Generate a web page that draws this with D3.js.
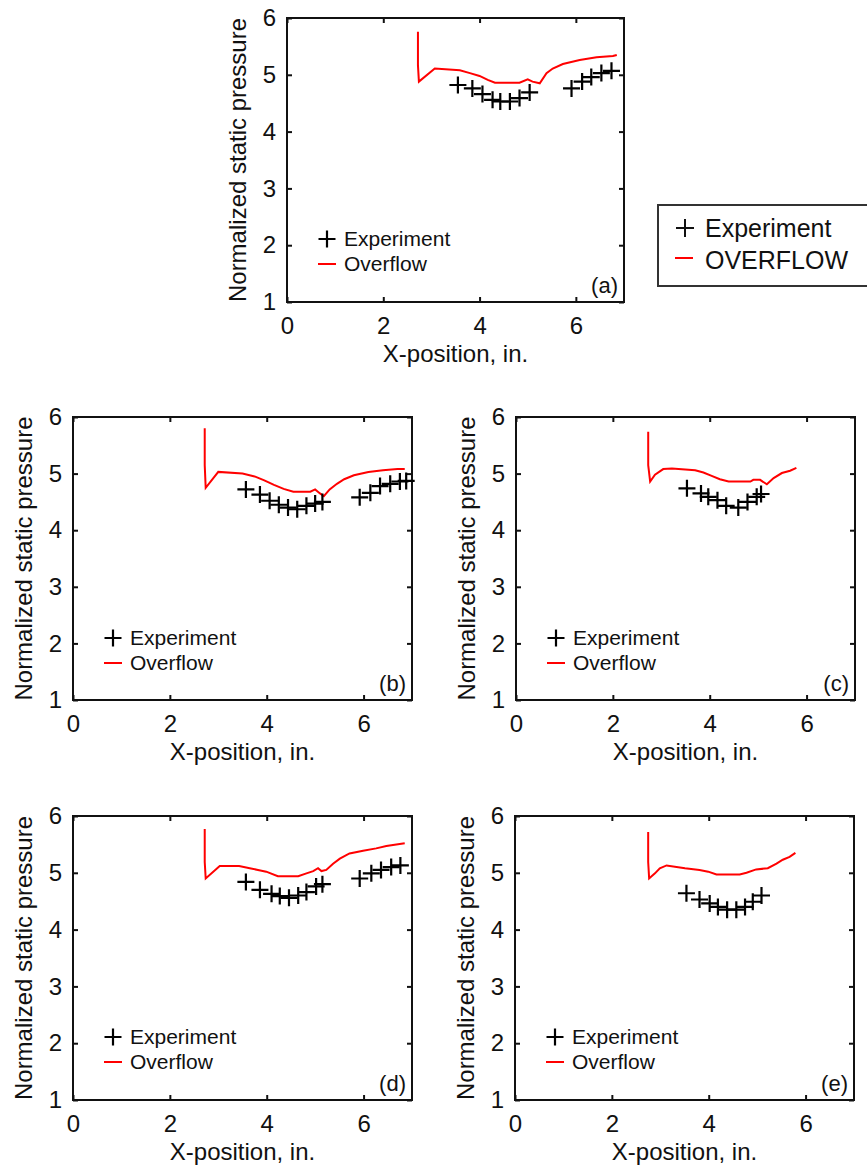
<!DOCTYPE html>
<html>
<head>
<meta charset="utf-8">
<script src="https://cdn.jsdelivr.net/npm/d3@7"></script>
<style>
  html, body { margin: 0; padding: 0; background: #fff; }
  svg { display: block; }
  text { font-family: "Liberation Sans", Arial, sans-serif; fill: #111; }
</style>
</head>
<body>
<svg id="chart" width="867" height="1169"></svg>
<script>
// ---------- data ----------
const xTicks = [0, 2, 4, 6];
const yTicks = [1, 2, 3, 4, 5, 6];
const xDomain = [0, 7];
const yDomain = [1, 6];
const xTitle = "X-position, in.";
const yTitle = "Normalized static pressure";
const legendLabels = ["Experiment", "Overflow"];
const outerLegendLabels = ["Experiment", "OVERFLOW"];
const panelLabels = ["(a)", "(b)", "(c)", "(d)", "(e)"];

// panel (a)
const expX_a = [3.55, 3.85, 4.06, 4.27, 4.43, 4.63, 4.83, 5.04, 5.91, 6.13, 6.32, 6.53, 6.74];
const expY_a = [4.82, 4.76, 4.66, 4.56, 4.53, 4.53, 4.59, 4.69, 4.76, 4.88, 4.96, 5.03, 5.07];
const cfdX_a = [2.72, 2.72, 2.74, 3.07, 3.59, 3.80, 4.00, 4.17, 4.32, 4.83, 5.00, 5.10, 5.25, 5.39, 5.52, 5.73, 6.08, 6.43, 6.77, 6.85];
const cfdY_a = [5.76, 5.17, 4.88, 5.11, 5.08, 5.03, 4.98, 4.91, 4.86, 4.86, 4.92, 4.88, 4.85, 5.03, 5.11, 5.19, 5.26, 5.31, 5.33, 5.35];

// panel (b)
const expX_b = [3.57, 3.86, 4.06, 4.25, 4.44, 4.63, 4.82, 5.00, 5.15, 5.92, 6.14, 6.34, 6.55, 6.75, 6.88];
const expY_b = [4.72, 4.63, 4.52, 4.45, 4.40, 4.37, 4.43, 4.47, 4.50, 4.58, 4.66, 4.78, 4.82, 4.86, 4.87];
const cfdX_b = [2.72, 2.72, 2.74, 3.00, 3.50, 3.75, 3.95, 4.15, 4.35, 4.55, 4.90, 5.00, 5.10, 5.18, 5.30, 5.45, 5.60, 5.80, 6.10, 6.40, 6.70, 6.85];
const cfdY_b = [5.80, 5.15, 4.75, 5.03, 5.00, 4.95, 4.88, 4.80, 4.73, 4.68, 4.68, 4.72, 4.65, 4.60, 4.72, 4.82, 4.90, 4.97, 5.03, 5.06, 5.08, 5.08];

// panel (c)
const expX_c = [3.53, 3.82, 3.97, 4.16, 4.34, 4.59, 4.78, 4.97, 5.06];
const expY_c = [4.74, 4.65, 4.59, 4.53, 4.43, 4.40, 4.50, 4.59, 4.64];
const cfdX_c = [2.73, 2.73, 2.77, 2.87, 3.04, 3.22, 3.70, 3.87, 4.04, 4.21, 4.39, 4.84, 4.90, 5.04, 5.18, 5.32, 5.49, 5.66, 5.79];
const cfdY_c = [5.74, 5.15, 4.86, 4.98, 5.08, 5.09, 5.06, 5.02, 4.96, 4.90, 4.86, 4.86, 4.89, 4.89, 4.81, 4.92, 5.01, 5.05, 5.10];

// panel (d)
const expX_d = [3.57, 3.86, 4.10, 4.27, 4.46, 4.65, 4.82, 5.02, 5.15, 5.92, 6.16, 6.36, 6.57, 6.76];
const expY_d = [4.84, 4.70, 4.63, 4.59, 4.56, 4.60, 4.66, 4.76, 4.80, 4.90, 4.99, 5.05, 5.10, 5.13];
const cfdX_d = [2.72, 2.72, 2.74, 3.03, 3.43, 3.65, 3.82, 3.99, 4.23, 4.65, 4.82, 4.96, 5.06, 5.13, 5.23, 5.37, 5.51, 5.71, 5.99, 6.26, 6.47, 6.85];
const cfdY_d = [5.77, 5.19, 4.90, 5.12, 5.12, 5.08, 5.05, 5.02, 4.94, 4.94, 4.99, 5.03, 5.08, 5.03, 5.05, 5.16, 5.25, 5.34, 5.39, 5.43, 5.47, 5.52];

// panel (e)
const expX_e = [3.54, 3.81, 4.02, 4.19, 4.38, 4.57, 4.75, 4.91, 5.09];
const expY_e = [4.64, 4.53, 4.46, 4.40, 4.35, 4.35, 4.40, 4.49, 4.60];
const cfdX_e = [2.75, 2.75, 2.77, 2.89, 2.99, 3.13, 3.51, 3.81, 3.99, 4.16, 4.64, 4.78, 4.98, 5.22, 5.40, 5.53, 5.67, 5.79];
const cfdY_e = [5.72, 5.19, 4.90, 4.99, 5.08, 5.13, 5.08, 5.05, 5.02, 4.97, 4.97, 5.00, 5.06, 5.08, 5.16, 5.23, 5.28, 5.35];

// ---------- layout ----------
const panels = [
  { label: panelLabels[0], left: 287, top: 18,  w: 337, h: 284, expX: expX_a, expY: expY_a, cfdX: cfdX_a, cfdY: cfdY_a },
  { label: panelLabels[1], left: 73,  top: 417, w: 339, h: 283, expX: expX_b, expY: expY_b, cfdX: cfdX_b, cfdY: cfdY_b },
  { label: panelLabels[2], left: 516, top: 417, w: 339, h: 283, expX: expX_c, expY: expY_c, cfdX: cfdX_c, cfdY: cfdY_c },
  { label: panelLabels[3], left: 73,  top: 816, w: 339, h: 284, expX: expX_d, expY: expY_d, cfdX: cfdX_d, cfdY: cfdY_d },
  { label: panelLabels[4], left: 515, top: 816, w: 339, h: 284, expX: expX_e, expY: expY_e, cfdX: cfdX_e, cfdY: cfdY_e }
];

const svg = d3.select("#chart");
const plusHalf = 8.5;
const plusPath = (cx, cy, r) => `M${cx - r},${cy}H${cx + r}M${cx},${cy - r}V${cy + r}`;

panels.forEach((p, i) => {
  const g = svg.append("g").attr("transform", `translate(${p.left},${p.top})`);
  const x = d3.scaleLinear().domain(xDomain).range([0, p.w]);
  const y = d3.scaleLinear().domain(yDomain).range([p.h, 0]);

  // axes (inward ticks)
  const bottom = g.append("g").attr("transform", `translate(0,${p.h})`)
    .call(d3.axisBottom(x).tickValues(xTicks).tickSize(-5).tickPadding(15).tickFormat(d3.format("d")));
  const left = g.append("g")
    .call(d3.axisLeft(y).tickValues(yTicks).tickSize(-5).tickPadding(11).tickFormat(d3.format("d")));
  const top = g.append("g")
    .call(d3.axisTop(x).tickValues(xTicks).tickSize(-5).tickFormat(""));
  const right = g.append("g").attr("transform", `translate(${p.w},0)`)
    .call(d3.axisRight(y).tickValues(yTicks).tickSize(-5).tickFormat(""));
  [bottom, left, top, right].forEach(a => {
    a.select(".domain").remove();
    a.selectAll(".tick line").attr("stroke", "#111").attr("stroke-width", 2);
    a.selectAll("text").style("font-size", "24px").attr("fill", "#111")
      .style("font-family", "'Liberation Sans', Arial, sans-serif");
  });

  // frame
  g.append("rect").attr("x", 0).attr("y", 0).attr("width", p.w).attr("height", p.h)
    .attr("fill", "none").attr("stroke", "#111").attr("stroke-width", 2);

  // CFD line
  const cfd = p.cfdX.map((v, k) => [v, p.cfdY[k]]);
  g.append("path").datum(cfd)
    .attr("fill", "none").attr("stroke", "#ff0000").attr("stroke-width", 2)
    .attr("stroke-linejoin", "miter")
    .attr("d", d3.line().x(d => x(d[0])).y(d => y(d[1])));

  // experiment markers
  const exp = p.expX.map((v, k) => [v, p.expY[k]]);
  g.append("g").selectAll("path").data(exp).join("path")
    .attr("d", d => plusPath(x(d[0]), y(d[1]), plusHalf))
    .attr("stroke", "#000").attr("stroke-width", 2.2).attr("fill", "none");

  // inner legend
  const lg = g.append("g");
  lg.append("path").attr("d", plusPath(40, 221, plusHalf))
    .attr("stroke", "#000").attr("stroke-width", 2.2);
  lg.append("text").attr("x", 57).attr("y", 228).text(legendLabels[0]).style("font-size", "21px");
  lg.append("line").attr("x1", 31).attr("x2", 49).attr("y1", 246).attr("y2", 246)
    .attr("stroke", "#ff0000").attr("stroke-width", 2);
  lg.append("text").attr("x", 57).attr("y", 253).text(legendLabels[1]).style("font-size", "21px");

  // panel label
  g.append("text").attr("x", p.w - 6).attr("y", p.h - 9).attr("text-anchor", "end")
    .style("font-size", "22px").text(p.label);

  // axis titles
  g.append("text").attr("x", p.w / 2).attr("y", p.h + 60).attr("text-anchor", "middle")
    .style("font-size", "24px").text(xTitle);
  g.append("text").attr("transform", `translate(-41,${p.h / 2}) rotate(-90)`)
    .attr("text-anchor", "middle").style("font-size", "24px").text(yTitle);
});

// outer legend box
const ol = svg.append("g");
ol.append("rect").attr("x", 658).attr("y", 205).attr("width", 240).attr("height", 81)
  .attr("fill", "#fff").attr("stroke", "#333").attr("stroke-width", 2);
ol.append("path").attr("d", plusPath(685, 228, 9)).attr("stroke", "#111").attr("stroke-width", 2);
ol.append("text").attr("x", 705).attr("y", 237).style("font-size", "25px").attr("fill", "#1a1a1a")
  .text(outerLegendLabels[0]);
ol.append("line").attr("x1", 675).attr("x2", 693).attr("y1", 258).attr("y2", 258)
  .attr("stroke", "#ff0000").attr("stroke-width", 2);
ol.append("text").attr("x", 705).attr("y", 269).style("font-size", "25px").attr("fill", "#1a1a1a")
  .text(outerLegendLabels[1]);
</script>
</body>
</html>
